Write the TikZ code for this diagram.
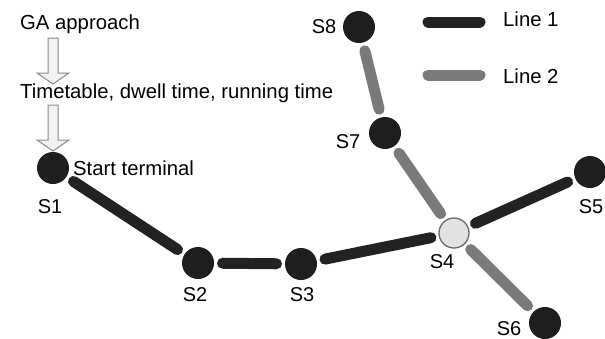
\documentclass[tikz,border=0pt]{standalone}
\usepackage{fontspec}
\setmainfont{Liberation Sans}
\definecolor{lineone}{HTML}{222222}
\definecolor{linetwo}{HTML}{7A7A7A}
\definecolor{stationfill}{HTML}{1E1E1E}
\definecolor{hubfill}{HTML}{E2E2E2}
\definecolor{hubdraw}{HTML}{6A6A6A}
\definecolor{arrowdraw}{HTML}{8A8A8A}
\definecolor{arrowfill}{HTML}{F2F2F2}
\begin{document}
\begin{tikzpicture}[x=1pt,y=-1pt,
  txt/.style={font=\fontsize{20.3}{23}\selectfont, inner sep=0pt, anchor=base west},
  lab/.style={font=\fontsize{20}{23}\selectfont, inner sep=0pt, anchor=base},
  station/.style={circle, fill=stationfill, minimum size=32pt, inner sep=0pt, outer sep=0pt},
  hub/.style={circle, fill=hubfill, draw=hubdraw, line width=1.3pt, minimum size=30pt, inner sep=0pt, outer sep=0pt},
  lineA/.style={draw=lineone, line width=11pt, line cap=round, shorten <=8.5pt, shorten >=8.5pt},
  lineB/.style={draw=linetwo, line width=11pt, line cap=round, shorten <=8.5pt, shorten >=8.5pt},
  legA/.style={draw=lineone, line width=11pt, line cap=round},
  legB/.style={draw=linetwo, line width=11pt, line cap=round},
  blockarrow/.style={draw=arrowdraw, fill=arrowfill, line width=1pt, line join=miter}
]
\useasboundingbox (0,0) rectangle (605,338);

% texts
\node[txt] (ga) at (20,29) {GA approach};
\node[txt] (tt) at (20,98) {Timetable, dwell time, running time};
\node[txt] (st) at (73,175) {Start terminal};

% block arrows
\draw[blockarrow] (48,38) -- (58,38) -- (58,73) -- (69,73) -- (53,84) -- (37,73) -- (48,73) -- cycle;
\draw[blockarrow] (48,105) -- (58,105) -- (58,140) -- (69,140) -- (53,151) -- (37,140) -- (48,140) -- cycle;

% stations
\node[station] (s1) at (53,168) {};
\node[station] (s2) at (198,263) {};
\node[station] (s3) at (301,264) {};
\node[hub]     (s4) at (454,233) {};
\node[station] (s5) at (590,172) {};
\node[station] (s6) at (545,323) {};
\node[station] (s7) at (385,133) {};
\node[station] (s8) at (359,27) {};

% connectors
\draw[lineA] (s1) -- (s2);
\draw[lineA] (s2) -- (s3);
\draw[lineA] (s3) -- (s4);
\draw[lineA] (s4) -- (s5);
\draw[lineB] (s4) -- (s6);
\draw[lineB] (s4) -- (s7);
\draw[lineB] (s7) -- (s8);

% station labels
\node[lab] (l1) at (50,213) {S1};
\node[lab] (l2) at (195,301) {S2};
\node[lab] (l3) at (302,301) {S3};
\node[lab] (l4) at (442,268) {S4};
\node[lab] (l5) at (591,213) {S5};
\node[lab] (l6) at (509,335) {S6};
\node[lab] (l7) at (348,148) {S7};
\node[lab] (l8) at (324,33) {S8};

% legend
\coordinate (la1) at (428,22);
\coordinate (la2) at (480,22);
\coordinate (lb1) at (428,75);
\coordinate (lb2) at (480,75);
\draw[legA] (la1) -- (la2);
\draw[legB] (lb1) -- (lb2);
\node[txt] (t1) at (503,26) {Line 1};
\node[txt] (t2) at (503,83) {Line 2};
\end{tikzpicture}
\end{document}
